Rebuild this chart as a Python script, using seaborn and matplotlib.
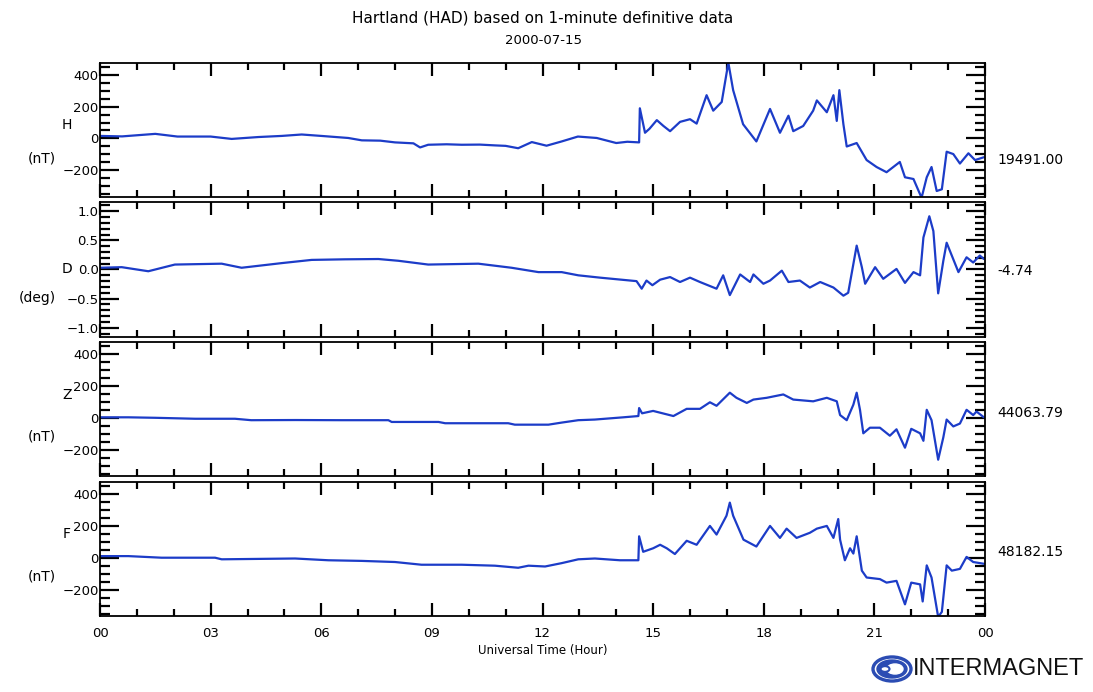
import matplotlib
matplotlib.use("Agg")
import matplotlib.pyplot as plt
import seaborn as sns
from matplotlib.ticker import MultipleLocator, FixedLocator, FixedFormatter
from matplotlib.patches import Circle, Ellipse

# ---------------- data ----------------
H_t = [0, 0.6, 1.5, 2.1, 3.0, 3.57, 4.3, 4.93, 5.47, 6.0, 6.73, 7.1, 7.6, 8.0, 8.5,
       8.68, 8.9, 9.4, 9.81, 10.3, 10.71, 11.0, 11.34, 11.71, 12.11, 12.52, 12.96, 13.47, 14.0, 14.3,
       14.62, 14.64, 14.78, 14.9, 15.1, 15.28, 15.46, 15.73, 16.0, 16.18, 16.45, 16.63, 16.86, 17.04, 17.17,
       17.44, 17.8, 18.17, 18.44, 18.67, 18.8, 19.07, 19.34, 19.44, 19.71, 19.89, 19.98, 20.05, 20.16, 20.25,
       20.52, 20.79, 21.06, 21.33, 21.69, 21.83, 22.06, 22.28, 22.42, 22.55, 22.69, 22.83, 22.96, 23.14, 23.32,
       23.55, 23.73, 23.97]
H_v = [15, 12, 28, 11, 11, -4, 8, 15, 24, 15, 2, -13, -15, -26, -32,
       -58, -41, -38, -41, -40, -45, -48, -63, -24, -47, -20, 11, 2, -30, -22,
       -26, 190, 35, 60, 115, 78, 45, 104, 121, 93, 273, 175, 230, 479, 305,
       89, -20, 186, 35, 143, 45, 78, 175, 240, 165, 273, 110, 305, 89, -52,
       -30, -138, -182, -215, -150, -247, -258, -377, -247, -182, -334, -323, -85, -100, -160,
       -95, -138, -120]

D_t = [0, 0.59, 1.31, 2.03, 3.3, 3.84, 4.93, 5.74, 6.64, 7.55, 8.09, 8.9, 10.26, 11.16, 11.89,
       12.52, 12.97, 13.56, 14.55, 14.69, 14.82, 14.98, 15.19, 15.46, 15.73, 16.0, 16.27, 16.72, 16.9, 17.08,
       17.36, 17.63, 17.72, 17.99, 18.17, 18.49, 18.67, 18.98, 19.25, 19.53, 19.89, 20.16, 20.29, 20.52, 20.66,
       20.75, 21.02, 21.24, 21.6, 21.83, 22.06, 22.24, 22.33, 22.49, 22.6, 22.73, 22.87, 22.96, 23.28, 23.5,
       23.68, 23.86, 23.97]
D_v = [0.03, 0.04, -0.03, 0.085, 0.1, 0.03, 0.11, 0.165, 0.175, 0.18, 0.15, 0.085, 0.1, 0.03, -0.045,
       -0.045, -0.1, -0.14, -0.2, -0.33, -0.19, -0.27, -0.175, -0.13, -0.215, -0.14, -0.215, -0.33, -0.1, -0.44,
       -0.085, -0.215, -0.085, -0.245, -0.19, -0.02, -0.215, -0.19, -0.31, -0.215, -0.31, -0.45, -0.4, 0.41, 0.04,
       -0.245, 0.04, -0.16, 0.01, -0.23, -0.045, -0.1, 0.55, 0.915, 0.66, -0.41, 0.15, 0.46, -0.045, 0.21,
       0.12, 0.24, 0.18]

Z_t = [0, 0.77, 1.5, 2.58, 3.66, 4.1, 5.3, 6.55, 7.82, 7.91, 9.18, 9.36, 11.07, 11.25, 12.16,
       12.52, 12.97, 13.42, 14.19, 14.6, 14.62, 14.7, 15.0, 15.55, 15.91, 16.27, 16.54, 16.72, 17.08, 17.26,
       17.54, 17.72, 18.08, 18.53, 18.8, 19.34, 19.71, 19.98, 20.07, 20.25, 20.43, 20.52, 20.61, 20.7, 20.88,
       21.15, 21.42, 21.6, 21.83, 22.0, 22.24, 22.33, 22.42, 22.55, 22.73, 22.87, 22.96, 23.14, 23.32, 23.5,
       23.68, 23.77, 23.97]
Z_v = [5, 5, 2, -4, -4, -13, -12, -13, -13, -24, -24, -32, -32, -41, -41,
       -28, -13, -9, 5, 13, 63, 30, 45, 13, 58, 58, 99, 77, 159, 127,
       95, 116, 127, 148, 116, 105, 127, 105, 19, -13, 84, 159, 52, -95, -60,
       -60, -110, -70, -185, -67, -95, -142, 52, -13, -260, -120, -9, -52, -34, 52,
       19, 41, 5]

F_t = [0, 0.77, 1.67, 3.12, 3.3, 5.29, 6.19, 7.1, 8.0, 8.72, 9.81, 10.71, 11.34, 11.62, 12.07,
       12.52, 12.97, 13.42, 14.1, 14.6, 14.62, 14.73, 15.0, 15.19, 15.37, 15.59, 15.91, 16.18, 16.54, 16.72,
       16.99, 17.08, 17.17, 17.45, 17.8, 18.17, 18.44, 18.62, 18.89, 19.25, 19.44, 19.71, 19.89, 20.02, 20.07,
       20.2, 20.34, 20.43, 20.52, 20.66, 20.79, 21.15, 21.33, 21.6, 21.83, 22.0, 22.24, 22.31, 22.42, 22.55,
       22.73, 22.83, 22.96, 23.1, 23.32, 23.5, 23.68, 23.97]
F_v = [10, 10, 0, 0, -10, -5, -16, -20, -27, -44, -44, -50, -63, -50, -55,
       -34, -10, -5, -16, -16, 134, 37, 59, 81, 59, 23, 106, 81, 199, 145,
       263, 345, 263, 113, 70, 199, 124, 182, 124, 156, 182, 199, 124, 242, 113,
       -16, 59, 26, 134, -81, -124, -134, -156, -145, -292, -156, -167, -274, -48, -124,
       -371, -339, -48, -81, -70, 5, -27, -38]

components = ["H", "D", "Z", "F"]
units = ["(nT)", "(deg)", "(nT)", "(nT)"]
baselines = ["19491.00", "-4.74", "44063.79", "48182.15"]
x_ticks = [0, 3, 6, 9, 12, 15, 18, 21, 24]
x_ticklabels = ["00", "03", "06", "09", "12", "15", "18", "21", "00"]
title = "Hartland (HAD) based on 1-minute definitive data"
date = "2000-07-15"
xlabel = "Universal Time (Hour)"

# ---------------- figure ----------------
sns.set_theme(style="ticks")
plt.rcParams["font.family"] = ["DejaVu Sans"]
plt.rcParams["text.color"] = "black"
plt.rcParams["axes.labelcolor"] = "black"
W, H = 1093, 692
fig = plt.figure(figsize=(W / 100, H / 100), dpi=100)
fig.patch.set_facecolor("white")

panels_px = [(63, 197), (202, 337), (342, 476), (482, 616)]
comp_y = [125, 269, 395, 534]
unit_y = [159, 298, 437, 576]
base_y = [160, 271, 413, 552]
left_px, right_px = 100, 985
line_color = "#1c3cc8"

series = [(H_t, H_v), (D_t, D_v), (Z_t, Z_v), (F_t, F_v)]
ylims = [(-372, 477), (-1.16, 1.16), (-362, 476), (-365, 474)]

for i, ((t, v), (top, bot)) in enumerate(zip(series, panels_px)):
    ax = fig.add_axes([left_px / W, 1 - bot / H, (right_px - left_px) / W, (bot - top) / H])
    sns.lineplot(x=t, y=v, ax=ax, color=line_color, linewidth=1.6,
                 estimator=None, sort=False)
    ax.set_xlim(0, 24)
    ax.set_ylim(*ylims[i])
    ax.set_facecolor("white")
    for sp in ax.spines.values():
        sp.set_visible(True)
        sp.set_color("black")
        sp.set_linewidth(1.3)
    ax.xaxis.set_major_locator(FixedLocator(x_ticks))
    ax.xaxis.set_minor_locator(MultipleLocator(1))
    if i == 1:
        ax.yaxis.set_major_locator(FixedLocator([-1.0, -0.5, 0.0, 0.5, 1.0]))
        ax.yaxis.set_minor_locator(MultipleLocator(0.1))
        ax.yaxis.set_major_formatter(FixedFormatter(["\u22121.0", "\u22120.5", "0.0", "0.5", "1.0"]))
    else:
        ax.yaxis.set_major_locator(FixedLocator([-200, 0, 200, 400]))
        ax.yaxis.set_minor_locator(MultipleLocator(50))
        ax.yaxis.set_major_formatter(FixedFormatter(["\u2212200", "0", "200", "400"]))
    ax.tick_params(axis="x", which="major", direction="in", length=9.5, width=1.6,
                   top=True, bottom=True, colors="black")
    ax.tick_params(axis="x", which="minor", direction="in", length=5, width=1.6,
                   top=True, bottom=True, colors="black")
    ax.tick_params(axis="y", which="major", direction="in", length=13.5, width=1.6,
                   left=True, right=True, colors="black", labelsize=9.5, pad=1)
    ax.tick_params(axis="y", which="minor", direction="in", length=7.5, width=1.6,
                   left=True, right=True, colors="black")
    ax.set_ylabel("")
    if i == 3:
        ax.xaxis.set_major_formatter(FixedFormatter(x_ticklabels))
        ax.tick_params(axis="x", labelsize=9.5, pad=8)
        ax.set_xlabel(xlabel, fontsize=8.5, labelpad=3)
    else:
        ax.tick_params(axis="x", labelbottom=False)
        ax.set_xlabel("")
    fig.text(67 / W, 1 - comp_y[i] / H, components[i], ha="center", va="center", fontsize=10)
    fig.text(56 / W, 1 - unit_y[i] / H, units[i], ha="right", va="center", fontsize=10)
    fig.text(997 / W, 1 - base_y[i] / H, baselines[i], ha="left", va="center", fontsize=10)

fig.text(543 / W, 1 - 18 / H, title, ha="center", va="center", fontsize=11)
fig.text(543 / W, 1 - 40 / H, date, ha="center", va="center", fontsize=9.5)

# INTERMAGNET logo
logo_blue = "#2b4cb3"
cx, cy = 892, 669
fig.patches.append(Circle((cx / W, 1 - cy / H), 19 / W, transform=fig.transFigure,
                          facecolor="white", edgecolor=logo_blue, linewidth=2.4))
fig.patches.append(Ellipse((cx / W, 1 - cy / H), 30 / W, 18 / H, transform=fig.transFigure,
                           facecolor=logo_blue, edgecolor=logo_blue))
fig.patches.append(Ellipse(((cx + 3) / W, 1 - cy / H), 16 / W, 10 / H, transform=fig.transFigure,
                           facecolor="white", edgecolor="white"))
fig.patches.append(Circle(((cx - 7) / W, 1 - cy / H), 4.5 / W, transform=fig.transFigure,
                          facecolor="white", edgecolor=logo_blue, linewidth=1.5))
fig.text(913 / W, 1 - cy / H, "INTERMAGNET", ha="left", va="center", fontsize=17,
         family=["Liberation Sans", "DejaVu Sans"], color="#111111")

fig.savefig("out.png", dpi=100, facecolor="white")
